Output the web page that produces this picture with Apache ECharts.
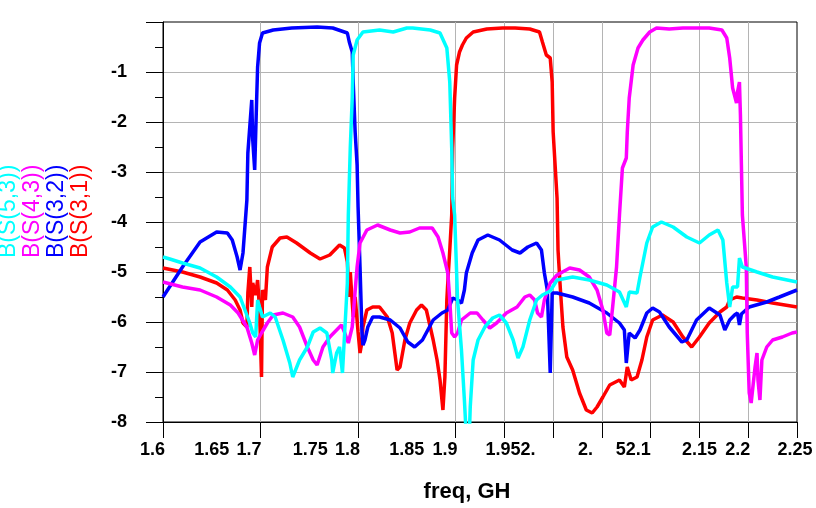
<!DOCTYPE html>
<html><head><meta charset="utf-8">
<script src="https://cdn.jsdelivr.net/npm/echarts@6/dist/echarts.min.js"></script>
<style>html,body{margin:0;padding:0;background:#fff}#c{width:816px;height:508px}</style>
</head><body><div id="c"></div>
<script>
// ---- data (frequency GHz, dB) ----
const s31 = [[1.600,-4.92],[1.620,-5.0],[1.638,-5.1],[1.655,-5.22],[1.666,-5.36],[1.674,-5.56],[1.679,-5.76],[1.682,-6.02],[1.686,-6.1],[1.687,-5.42],[1.689,-4.9],[1.691,-5.7],[1.692,-5.22],[1.695,-5.46],[1.697,-5.16],[1.699,-5.76],[1.701,-7.1],[1.702,-5.36],[1.705,-5.56],[1.707,-4.9],[1.712,-4.5],[1.720,-4.32],[1.727,-4.3],[1.737,-4.42],[1.751,-4.62],[1.761,-4.74],[1.771,-4.66],[1.781,-4.46],[1.786,-4.52],[1.789,-4.8],[1.791,-5.5],[1.792,-5.0],[1.795,-5.9],[1.797,-5.5],[1.800,-6.2],[1.802,-6.62],[1.804,-6.4],[1.805,-6.1],[1.809,-5.76],[1.815,-5.7],[1.822,-5.7],[1.830,-5.9],[1.835,-6.22],[1.840,-6.96],[1.843,-6.9],[1.848,-6.36],[1.853,-6.02],[1.860,-5.76],[1.865,-5.66],[1.870,-5.76],[1.874,-6.1],[1.877,-6.36],[1.881,-6.76],[1.884,-7.16],[1.887,-7.76],[1.889,-7.1],[1.891,-5.56],[1.892,-5.2],[1.894,-4.56],[1.896,-3.86],[1.897,-2.52],[1.899,-1.52],[1.901,-0.86],[1.904,-0.6],[1.907,-0.46],[1.911,-0.32],[1.918,-0.2],[1.932,-0.14],[1.948,-0.12],[1.961,-0.12],[1.976,-0.14],[1.986,-0.2],[1.989,-0.4],[1.993,-0.66],[1.997,-0.72],[1.999,-1.2],[2.000,-2.2],[2.002,-2.86],[2.004,-3.52],[2.005,-4.56],[2.007,-5.22],[2.010,-6.1],[2.014,-6.7],[2.020,-6.96],[2.027,-7.42],[2.034,-7.76],[2.040,-7.82],[2.045,-7.7],[2.051,-7.5],[2.058,-7.26],[2.068,-7.16],[2.073,-7.3],[2.076,-6.9],[2.080,-7.16],[2.086,-7.1],[2.091,-6.76],[2.096,-6.3],[2.102,-5.96],[2.112,-5.86],[2.123,-6.0],[2.133,-6.3],[2.142,-6.5],[2.150,-6.3],[2.160,-6.02],[2.171,-5.8],[2.178,-5.7],[2.181,-5.56],[2.188,-5.5],[2.194,-5.52],[2.209,-5.56],[2.225,-5.62],[2.250,-5.7]];

const s32 = [[1.600,-5.5],[1.620,-4.9],[1.638,-4.4],[1.655,-4.2],[1.666,-4.22],[1.671,-4.36],[1.676,-4.7],[1.679,-4.96],[1.682,-4.62],[1.686,-3.56],[1.687,-2.62],[1.691,-1.56],[1.692,-2.36],[1.694,-2.96],[1.696,-1.56],[1.697,-0.9],[1.699,-0.42],[1.702,-0.22],[1.713,-0.16],[1.732,-0.12],[1.758,-0.1],[1.774,-0.12],[1.789,-0.22],[1.791,-0.4],[1.794,-0.6],[1.795,-1.2],[1.797,-2.2],[1.799,-2.86],[1.800,-3.7],[1.802,-4.9],[1.804,-6.22],[1.805,-6.46],[1.807,-6.36],[1.810,-6.1],[1.815,-5.9],[1.822,-5.9],[1.833,-5.96],[1.843,-6.12],[1.851,-6.4],[1.858,-6.5],[1.866,-6.36],[1.877,-5.96],[1.886,-5.82],[1.892,-5.76],[1.897,-5.52],[1.902,-5.56],[1.906,-5.62],[1.909,-5.36],[1.911,-5.02],[1.917,-4.62],[1.923,-4.36],[1.933,-4.26],[1.945,-4.36],[1.958,-4.56],[1.966,-4.62],[1.974,-4.5],[1.983,-4.42],[1.988,-4.56],[1.991,-5.02],[1.994,-5.36],[1.997,-7.02],[1.999,-5.42],[2.004,-5.42],[2.020,-5.5],[2.037,-5.62],[2.055,-5.82],[2.068,-6.02],[2.073,-6.16],[2.075,-6.82],[2.078,-6.22],[2.084,-6.32],[2.089,-6.16],[2.096,-5.82],[2.102,-5.72],[2.109,-5.8],[2.119,-6.1],[2.132,-6.4],[2.137,-6.36],[2.147,-5.96],[2.160,-5.72],[2.171,-5.86],[2.176,-6.16],[2.181,-5.96],[2.186,-5.86],[2.189,-5.82],[2.191,-6.06],[2.193,-5.84],[2.201,-5.7],[2.219,-5.6],[2.232,-5.5],[2.250,-5.36]];

const s43 = [[1.600,-5.2],[1.620,-5.3],[1.638,-5.36],[1.655,-5.5],[1.669,-5.66],[1.677,-5.82],[1.686,-6.1],[1.691,-6.42],[1.694,-6.66],[1.697,-6.36],[1.701,-6.22],[1.707,-6.02],[1.713,-5.86],[1.723,-5.82],[1.733,-5.9],[1.740,-6.1],[1.748,-6.5],[1.754,-6.76],[1.758,-6.86],[1.764,-6.5],[1.771,-6.3],[1.778,-6.16],[1.783,-6.06],[1.786,-6.2],[1.790,-6.42],[1.794,-6.1],[1.799,-4.9],[1.802,-4.42],[1.809,-4.16],[1.820,-4.06],[1.833,-4.16],[1.843,-4.22],[1.853,-4.2],[1.863,-4.12],[1.876,-4.12],[1.882,-4.3],[1.887,-4.62],[1.892,-5.02],[1.894,-5.56],[1.896,-6.22],[1.899,-6.3],[1.902,-6.22],[1.906,-5.96],[1.915,-5.82],[1.922,-5.82],[1.928,-5.96],[1.935,-6.12],[1.942,-6.02],[1.952,-5.82],[1.963,-5.7],[1.971,-5.5],[1.976,-5.46],[1.981,-5.56],[1.984,-5.82],[1.988,-5.9],[1.991,-5.56],[1.997,-5.22],[2.004,-5.06],[2.017,-4.92],[2.027,-4.96],[2.037,-5.1],[2.045,-5.36],[2.051,-5.76],[2.055,-6.22],[2.058,-6.26],[2.061,-5.7],[2.065,-4.9],[2.068,-3.86],[2.071,-2.92],[2.075,-2.72],[2.076,-2.2],[2.078,-1.52],[2.082,-0.86],[2.087,-0.52],[2.092,-0.36],[2.099,-0.2],[2.106,-0.12],[2.119,-0.14],[2.133,-0.12],[2.143,-0.12],[2.160,-0.12],[2.173,-0.16],[2.178,-0.32],[2.181,-0.72],[2.184,-1.32],[2.188,-1.62],[2.189,-1.4],[2.191,-1.2],[2.192,-1.86],[2.193,-2.86],[2.194,-3.86],[2.198,-4.9],[2.199,-6.22],[2.201,-7.42],[2.203,-7.62],[2.207,-6.9],[2.209,-6.62],[2.210,-7.16],[2.212,-7.56],[2.214,-6.76],[2.219,-6.5],[2.225,-6.36],[2.235,-6.3],[2.245,-6.22],[2.250,-6.2]];

const s53 = [[1.600,-4.7],[1.607,-4.74],[1.620,-4.82],[1.638,-4.92],[1.655,-5.1],[1.669,-5.3],[1.679,-5.5],[1.684,-5.76],[1.689,-6.02],[1.692,-6.22],[1.695,-6.3],[1.697,-5.56],[1.699,-5.7],[1.702,-5.9],[1.710,-5.82],[1.715,-5.9],[1.723,-6.36],[1.730,-6.82],[1.733,-7.1],[1.740,-6.76],[1.748,-6.5],[1.754,-6.2],[1.761,-6.12],[1.768,-6.22],[1.773,-6.76],[1.774,-7.02],[1.778,-6.62],[1.781,-6.5],[1.784,-7.02],[1.786,-7.02],[1.789,-5.22],[1.790,-3.86],[1.792,-2.52],[1.794,-1.52],[1.795,-0.66],[1.799,-0.36],[1.805,-0.2],[1.822,-0.16],[1.836,-0.2],[1.850,-0.12],[1.856,-0.12],[1.874,-0.16],[1.884,-0.22],[1.891,-0.52],[1.894,-1.2],[1.896,-2.52],[1.897,-3.52],[1.899,-3.86],[1.902,-5.56],[1.906,-6.56],[1.909,-7.56],[1.911,-8.3],[1.914,-8.3],[1.915,-7.7],[1.918,-6.76],[1.923,-6.36],[1.930,-6.1],[1.938,-5.92],[1.945,-5.86],[1.952,-6.02],[1.959,-6.36],[1.964,-6.72],[1.969,-6.5],[1.976,-5.96],[1.983,-5.56],[1.989,-5.46],[1.997,-5.38],[2.004,-5.16],[2.020,-5.1],[2.037,-5.16],[2.055,-5.26],[2.068,-5.4],[2.075,-5.7],[2.078,-5.4],[2.086,-5.42],[2.089,-5.1],[2.096,-4.42],[2.102,-4.1],[2.111,-4.0],[2.123,-4.1],[2.137,-4.3],[2.150,-4.42],[2.160,-4.26],[2.169,-4.16],[2.174,-4.36],[2.178,-5.22],[2.181,-5.7],[2.184,-5.3],[2.189,-5.3],[2.191,-4.72],[2.194,-4.9],[2.209,-5.0],[2.225,-5.1],[2.250,-5.2]];

// ---- axis / text content ----
const xTickMarks = [1.6,1.7,1.8,1.9,1.95,2.0,2.05,2.1,2.15,2.2,2.25];
const xLabelValues = [1.6,1.65,1.7,1.75,1.8,1.85,1.9,1.95,2.05,2.1,2.15,2.2,2.25];
const xLabelTexts = ['1.6','1.65','1.7','1.75','1.8','1.85','1.9','1.952.','2.','52.1','2.15','2.2','2.25'];
const legendNames = ['B(S(5,3))','B(S(4,3))','B(S(3,2))','B(S(3,1))'];
const xTitle = 'freq, GH';

// ---- styles ----
const colors = {s53:'#00ffff', s43:'#ff00ff', s32:'#0000ff', s31:'#ff0000'};
const legendColors = [colors.s53, colors.s43, colors.s32, colors.s31];
const xLabelAlign = ['right','center','right','center','right','center','right','left','right','right','center','right','center'];
const xLabelDx = [2,0,1,1,2,0,2,-19,-9,0,0,2,-2];
const FONT = '"Liberation Sans", Arial, sans-serif';

const chart = echarts.init(document.getElementById('c'));
function line(name, data, color){
  return {name, type:'line', data, showSymbol:false, symbol:'none', clip:true,
    lineStyle:{color, width:3.5}, itemStyle:{color}, emphasis:{disabled:true}};
}
chart.setOption({
  animation:false,
  backgroundColor:'#fff',
  grid:{left:163, right:19, top:22, bottom:86, show:true, borderColor:'#000', borderWidth:1, backgroundColor:'transparent'},
  xAxis:{type:'value', min:1.6, max:2.25, interval:0.05,
    axisLine:{onZero:false, lineStyle:{color:'#000', width:1}},
    axisTick:{show:true, customValues:xTickMarks, length:16, lineStyle:{color:'#000', width:1}},
    axisLabel:{show:false},
    splitLine:{show:true, showMinLine:false, showMaxLine:false, lineStyle:{color:'#b4b4b4', width:1}}},
  yAxis:{type:'value', min:-8, max:0, interval:1,
    axisLine:{show:true, lineStyle:{color:'#000', width:1}},
    axisTick:{show:true, length:17, lineStyle:{color:'#000', width:1}},
    minorTick:{show:true, splitNumber:2, length:8, lineStyle:{color:'#000', width:1}},
    axisLabel:{margin:36, color:'#000', fontSize:18, fontWeight:'bold', fontFamily:FONT,
      formatter:v => v === 0 ? '' : String(v)},
    splitLine:{show:true, showMinLine:false, showMaxLine:false, lineStyle:{color:'#b4b4b4', width:1}}},
  series:[line('S31', s31, colors.s31), line('S32', s32, colors.s32), line('S43', s43, colors.s43), line('S53', s53, colors.s53)]
});

const g = [];
const yLab = chart.convertToPixel({yAxisIndex:0}, -8) + 28;
xLabelValues.forEach((v,i) => {
  const px = chart.convertToPixel({xAxisIndex:0}, v);
  g.push({type:'text', x:px + xLabelDx[i], y:yLab, style:{text:xLabelTexts[i], fill:'#000',
    font:'bold 18px ' + FONT, align:xLabelAlign[i], verticalAlign:'middle'}});
});
const xMid = (chart.convertToPixel({xAxisIndex:0}, 1.6) + chart.convertToPixel({xAxisIndex:0}, 2.25)) / 2;
g.push({type:'text', x:xMid - 13, y:yLab + 42, style:{text:xTitle, fill:'#000', font:'bold 22px ' + FONT, align:'center', verticalAlign:'middle'}});
legendNames.forEach((t,i) => {
  g.push({type:'text', x:9 + i*24, y:258, rotation:Math.PI/2, style:{text:t, fill:legendColors[i],
    font:'23px ' + FONT, align:'left', verticalAlign:'middle'}});
});
chart.setOption({graphic:g});
</script></body></html>
